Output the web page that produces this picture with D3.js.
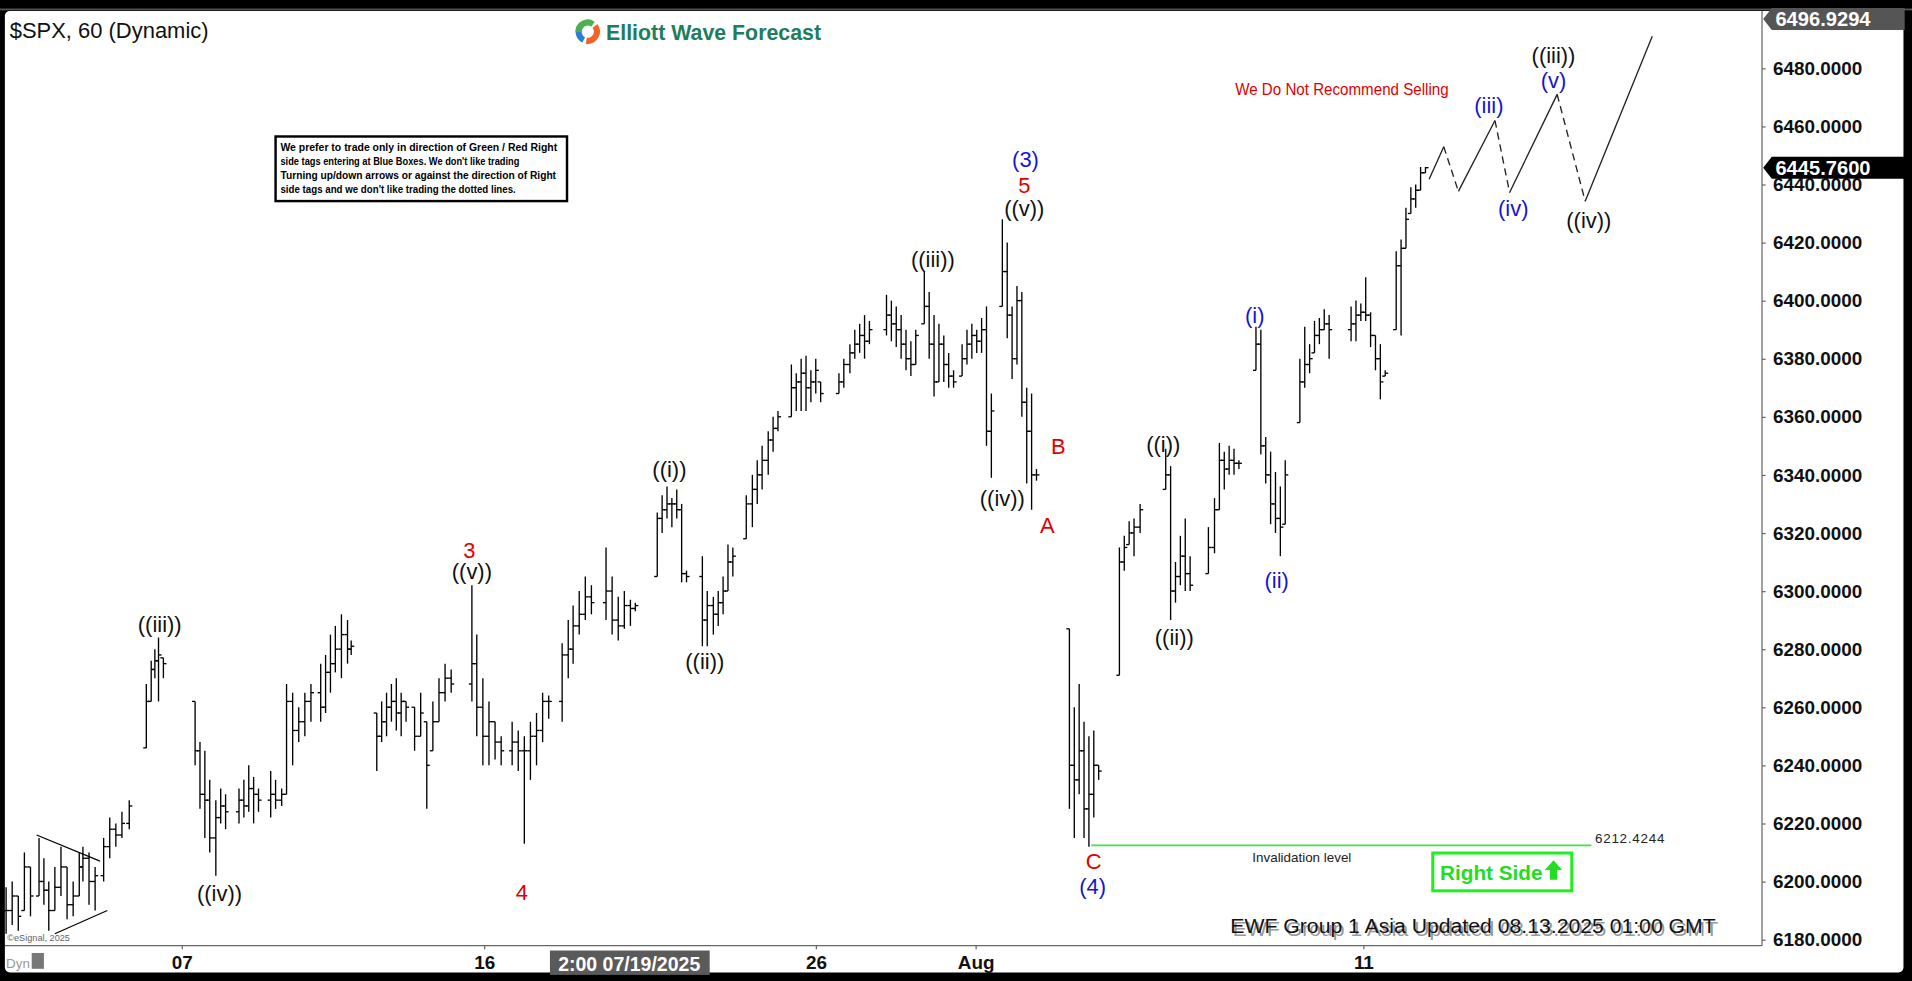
<!DOCTYPE html>
<html>
<head>
<meta charset="utf-8">
<script src="https://cdn.jsdelivr.net/npm/d3@7"></script>
<style>
  html, body { margin: 0; padding: 0; background: #000; overflow: hidden; }
  svg text { font-family: "Liberation Sans", Arial, sans-serif; }
</style>
</head>
<body>
<div id="chart"></div>
<script>
// hourly bars: time slot, high, low, close
var slot = [5,10,15,20,25,32,36,40,45,50,55,60,65,68,73,78,85,90,95,100,106,
  120,124,127,130,134,160,164,168,172,177,181,185,196,200,204,208,212,222,226,231,
  235,240,245,250,255,263,267,271,275,280,285,288,309,313,317,321,325,329,333,340,
  345,350,355,360,365,370,387,391,396,401,406,411,420,425,430,435,440,445,450,
  461,466,470,475,480,485,497,502,507,512,517,521,539,543,547,551,555,559,563,
  576,580,585,589,593,597,601,612,617,621,625,630,634,638,649,653,657,661,665,669,673,
  688,692,697,701,705,709,713,727,731,735,739,743,747,751,758,762,766,770,774,778,782,
  789,793,797,801,805,809,813,822,826,830,834,838,842,846,850,
  877,881,885,889,893,897,901,918,922,926,930,935,956,960,964,968,972,976,
  991,996,1000,1004,1008,1012,1016,1030,1034,1038,1042,1046,1050,1054,
  1066,1070,1074,1078,1082,1086,1090,1108,1112,1116,1120,1124,1128,1132,1136,
  1145,1149,1153,1157,1161,1165,1169];
var high = [6198,6200,6195,6210,6205,6215,6208,6200,6205,6212,6205,6200,6210,6212,6210,6205,6215,6222,6220,6224,6228,
  6268,6276,6280,6284,6277,6262,6248,6245,6235,6228,6232,6230,6232,6235,6240,6236,6232,6238,6235,6232,
  6268,6265,6260,6265,6268,6275,6278,6285,6288,6292,6290,6283,6258,6262,6265,6268,6270,6265,6262,6260,
  6265,6255,6262,6270,6275,6273,6302,6285,6270,6262,6255,6250,6255,6252,6250,6255,6258,6265,6264,
  6282,6290,6295,6300,6305,6302,6315,6305,6298,6300,6297,6296,6327,6333,6336,6332,6335,6330,6307,
  6312,6300,6298,6300,6305,6316,6315,6333,6340,6345,6350,6355,6360,6362,6378,6375,6380,6381,6376,6380,6372,
  6375,6380,6385,6390,6392,6395,6393,6402,6400,6398,6395,6390,6386,6390,6410,6403,6395,6392,6388,6382,6376,
  6385,6390,6392,6390,6394,6398,6368,6428,6420,6398,6405,6403,6370,6368,6342,
  6287,6260,6268,6255,6250,6252,6240,6315,6319,6324,6325,6330,6349,6343,6310,6319,6325,6312,
  6322,6332,6351,6348,6350,6349,6345,6391,6390,6353,6348,6341,6336,6345,
  6380,6391,6385,6393,6394,6397,6395,6398,6400,6399,6408,6396,6388,6385,6376,
  6417,6421,6432,6439,6440,6446,6446];
var low = [6182,6185,6183,6190,6188,6195,6192,6183,6190,6195,6187,6188,6195,6200,6192,6190,6200,6208,6212,6215,6218,
  6246,6262,6270,6262,6270,6240,6225,6215,6210,6202,6220,6218,6220,6222,6224,6220,6224,6222,6225,6226,
  6230,6240,6248,6250,6255,6255,6258,6265,6272,6270,6275,6278,6238,6248,6250,6255,6252,6250,6255,6245,
  6250,6225,6245,6255,6262,6265,6262,6250,6240,6240,6242,6240,6240,6238,6213,6235,6240,6248,6256,
  6255,6270,6275,6285,6290,6292,6290,6285,6283,6287,6288,6293,6305,6320,6325,6322,6325,6303,6303,
  6281,6281,6285,6288,6292,6300,6305,6318,6322,6330,6335,6340,6348,6355,6360,6362,6362,6362,6365,6368,6365,
  6368,6370,6375,6380,6382,6380,6385,6388,6386,6384,6380,6376,6374,6378,6392,6380,6367,6372,6372,6370,6370,
  6374,6378,6380,6382,6382,6350,6339,6398,6387,6373,6378,6360,6337,6328,6338,
  6225,6215,6230,6215,6212,6222,6235,6271,6307,6316,6312,6320,6335,6290,6296,6302,6300,6300,
  6306,6313,6328,6335,6340,6340,6342,6376,6347,6337,6323,6320,6312,6323,
  6358,6370,6375,6382,6385,6390,6380,6386,6386,6393,6393,6384,6376,6366,6374,
  6390,6388,6418,6430,6432,6438,6444];
var close = [6190,6195,6188,6205,6195,6200,6197,6190,6198,6205,6192,6195,6205,6208,6200,6202,6212,6218,6216,6220,6226,
  6262,6273,6276,6278,6275,6245,6230,6228,6215,6222,6226,6224,6228,6226,6232,6230,6228,6230,6228,6230,
  6262,6252,6255,6262,6265,6260,6272,6275,6280,6285,6280,6281,6250,6255,6260,6262,6258,6262,6260,6250,
  6258,6240,6255,6265,6270,6268,6275,6260,6250,6255,6248,6245,6248,6245,6245,6250,6252,6262,6262,
  6278,6280,6288,6292,6298,6296,6300,6290,6288,6295,6294,6295,6325,6328,6330,6330,6328,6306,6305,
  6290,6295,6292,6296,6300,6310,6312,6330,6335,6340,6345,6352,6356,6360,6370,6372,6375,6370,6372,6376,6368,
  6372,6378,6382,6385,6388,6386,6390,6395,6392,6390,6385,6380,6378,6388,6398,6385,6372,6385,6378,6374,6372,
  6380,6385,6388,6386,6390,6355,6362,6410,6395,6380,6400,6365,6355,6340,6340,
  6240,6235,6245,6225,6230,6240,6238,6310,6315,6320,6322,6328,6340,6300,6305,6312,6306,6302,
  6315,6328,6345,6342,6345,6344,6344,6385,6350,6340,6330,6325,6322,6340,
  6372,6378,6380,6388,6390,6392,6390,6392,6395,6396,6395,6388,6380,6372,6375,
  6412,6418,6428,6435,6438,6444,6445.76];

// projected path after the last bar
var projSlot = [1172,1184,1196,1226,1238,1277,1300,1355];
var projPrice = [6441.8,6453,6437.6,6462,6437.2,6471,6434.2,6491];
var projDashed = [false,true,false,true,false,true,false];

var yTicks = [6180,6200,6220,6240,6260,6280,6300,6320,6340,6360,6380,6400,6420,6440,6460,6480];
var xTickSlot = [149,397,669,800,1118];
var xTickLabel = ["07","16","26","Aug","11"];

// wave labels: text, slot, price, colour
var waveText  = ["((iii))","((iv))","((v))","((i))","((ii))","((iii))","((iv))","((v))","((i))","((ii))","((iii))","((iv))",
  "3","4","5","A","B","C",
  "(3)","(4)","(i)","(ii)","(iii)","(iv)","(v)"];
var waveSlot  = [131,180,387,549,578,765,822,840,954,963,1274,1303, 385,428,840,859,868,897, 841,896,1029,1047,1221,1241,1274];
var wavePrice = [6288.7,6195.9,6306.7,6342,6275.7,6414.1,6331.9,6431.7,6350.4,6284,6484.5,6427.5,
  6314,6196.4,6439.8,6322.7,6349.9,6206.9,
  6448.6,6198.5,6394.8,6303.8,6467.4,6431.7,6475.9];
var waveColor = ["k","k","k","k","k","k","k","k","k","k","k","k","r","r","r","r","r","r","b","b","b","b","b","b","b"];

var lastPrice = 6445.76, topPrice = 6496.9294, invalidation = 6212.4244;

var W = 1568, H = 805;
var colors = { k: "#111", r: "#e00000", b: "#1515d0" };

var svg = d3.select("#chart").append("svg")
    .attr("width", 1912).attr("height", 981)
    .attr("viewBox", "0 0 " + W + " " + H)
    .attr("preserveAspectRatio", "none");

// frame
svg.append("rect").attr("width", W).attr("height", H).attr("fill", "#000");
svg.append("rect").attr("x", 0).attr("y", 7).attr("width", W).attr("height", 1.5).attr("fill", "#555");
svg.append("rect").attr("x", 4).attr("y", 9).attr("width", 1557).attr("height", 789).attr("fill", "#fff")
    .attr("rx", 4);

var x = d3.scaleLinear().domain([0, 1445]).range([0, 1445]);
var y = d3.scaleLinear().domain([6180, 6480]).range([771, 56]);

// axes
svg.append("line").attr("x1", 1445).attr("x2", 1445).attr("y1", 9).attr("y2", 776).attr("stroke", "#666");
svg.append("line").attr("x1", 4).attr("x2", 1445).attr("y1", 776).attr("y2", 776).attr("stroke", "#666");

var yAxis = svg.append("g").attr("transform", "translate(1445,0)")
    .call(d3.axisRight(y).tickValues(yTicks).tickSize(3).tickFormat(d3.format(".4f")));
yAxis.select(".domain").remove();
yAxis.selectAll("line").attr("stroke", "#666");
yAxis.selectAll("text").attr("x", 9).attr("font-size", 15.5).attr("font-weight", "bold").attr("fill", "#111")
    .style("font-family", "Liberation Sans, Arial");

var xAxis = svg.append("g").attr("transform", "translate(0,776)")
    .call(d3.axisBottom(x).tickValues(xTickSlot).tickSize(3).tickFormat(function (d, i) { return xTickLabel[i]; }));
xAxis.select(".domain").remove();
xAxis.selectAll("line").attr("stroke", "#666");
xAxis.selectAll("text").attr("y", 8).attr("font-size", 15.5).attr("font-weight", "bold").attr("fill", "#111")
    .style("font-family", "Liberation Sans, Arial");

// cursor date tag
svg.append("rect").attr("x", 451).attr("y", 780).attr("width", 131).attr("height", 20).attr("fill", "#5a5a5a");
svg.append("text").attr("x", 516).attr("y", 797).attr("text-anchor", "middle").attr("font-size", 16)
    .attr("font-weight", "bold").attr("fill", "#fff").text("2:00 07/19/2025");
svg.append("text").attr("x", 5).attr("y", 794).attr("font-size", 11).attr("fill", "#999").text("Dyn");
svg.append("rect").attr("x", 26).attr("y", 782).attr("width", 10).attr("height", 13).attr("fill", "#777");
svg.append("text").attr("x", 6).attr("y", 772).attr("font-size", 7.5).attr("fill", "#666").text("©eSignal, 2025");

// price tags
function tag(price, fill, txt) {
    var yy = y(price);
    svg.append("path")
        .attr("d", "M1446," + yy + " l7,-9 h109 v18 h-109 z")
        .attr("fill", fill);
    svg.append("text").attr("x", 1456).attr("y", yy + 6).attr("font-size", 16.5).attr("font-weight", "bold")
        .attr("fill", "#fff").text(txt);
}
tag(topPrice, "#555", "6496.9294");
tag(lastPrice, "#000", "6445.7600");

// OHLC bars
var bars = slot.map(function (s, i) {
    var o = i > 0 ? Math.max(low[i], Math.min(high[i], close[i - 1])) : close[i];
    return { s: s, o: o, h: high[i], l: low[i], c: close[i] };
});
var g = svg.append("g").attr("stroke", "#000").attr("stroke-width", 1.1);
g.selectAll(".hl").data(bars).enter().append("line")
    .attr("x1", function (d) { return x(d.s); }).attr("x2", function (d) { return x(d.s); })
    .attr("y1", function (d) { return y(d.h); }).attr("y2", function (d) { return y(d.l); });
g.selectAll(".o").data(bars).enter().append("line")
    .attr("x1", function (d) { return x(d.s) - 2.5; }).attr("x2", function (d) { return x(d.s); })
    .attr("y1", function (d) { return y(d.o); }).attr("y2", function (d) { return y(d.o); });
g.selectAll(".c").data(bars).enter().append("line")
    .attr("x1", function (d) { return x(d.s); }).attr("x2", function (d) { return x(d.s) + 2.5; })
    .attr("y1", function (d) { return y(d.c); }).attr("y2", function (d) { return y(d.c); });

// small triangle lines on the left
svg.append("line").attr("x1", x(30)).attr("y1", y(6216)).attr("x2", x(82)).attr("y2", y(6207)).attr("stroke", "#000");
svg.append("line").attr("x1", x(45)).attr("y1", y(6182)).attr("x2", x(88)).attr("y2", y(6190)).attr("stroke", "#000");

// projection
for (var i = 0; i < projSlot.length - 1; i++) {
    svg.append("line")
        .attr("x1", x(projSlot[i])).attr("y1", y(projPrice[i]))
        .attr("x2", x(projSlot[i + 1])).attr("y2", y(projPrice[i + 1]))
        .attr("stroke", "#222").attr("stroke-width", 1.1)
        .attr("stroke-dasharray", projDashed[i] ? "6,4" : null);
}

// invalidation line
svg.append("line").attr("x1", x(895)).attr("x2", x(1305)).attr("y1", y(invalidation)).attr("y2", y(invalidation))
    .attr("stroke", "#44e044").attr("stroke-width", 1.3);
svg.append("text").attr("x", x(1308)).attr("y", y(invalidation) - 2).attr("font-size", 11).attr("fill", "#222")
    .attr("textLength", 57).text("6212.4244");
svg.append("text").attr("x", 1027).attr("y", 707).attr("font-size", 11).attr("fill", "#222").text("Invalidation level");

// wave labels
svg.selectAll(".wave").data(waveText).enter().append("text")
    .attr("x", function (d, i) { return x(waveSlot[i]); })
    .attr("y", function (d, i) { return y(wavePrice[i]); })
    .attr("text-anchor", "middle").attr("dy", "0.35em")
    .attr("font-size", 18)
    .attr("fill", function (d, i) { return colors[waveColor[i]]; })
    .text(function (d) { return d; });

// header
svg.append("text").attr("x", 8).attr("y", 31).attr("font-size", 18).attr("fill", "#111").text("$SPX, 60 (Dynamic)");
var logo = svg.append("g").attr("transform", "translate(482,26)");
var arc = d3.arc().innerRadius(5).outerRadius(10);
[["#2a7fd4", 3.6, 5.6], ["#f0642a", 0.9, 3.3], ["#4cb050", -1.6, 0.6]].forEach(function (a) {
    logo.append("path").attr("d", arc({ startAngle: a[1], endAngle: a[2] })).attr("fill", a[0]);
});
svg.append("text").attr("x", 497).attr("y", 33).attr("font-size", 17.5).attr("font-weight", "bold")
    .attr("fill", "#1d7d5c").text("Elliott Wave Forecast");

// notice box
svg.append("rect").attr("x", 226).attr("y", 112).attr("width", 239).attr("height", 53)
    .attr("fill", "#fff").attr("stroke", "#000").attr("stroke-width", 2);
["We prefer to trade only in direction of Green / Red Right",
 "side tags entering at Blue Boxes. We don't like trading",
 "Turning up/down arrows or against the direction of Right",
 "side tags and we don't like trading the dotted lines."].forEach(function (t, i) {
    svg.append("text").attr("x", 230).attr("y", 124 + i * 11.5).attr("font-size", 8.2)
        .attr("font-weight", "bold").attr("fill", "#000")
        .attr("textLength", [227, 196, 226, 193][i]).attr("lengthAdjust", "spacingAndGlyphs").text(t);
});

svg.append("text").attr("x", 1013).attr("y", 78).attr("font-size", 13).attr("fill", "#e00000")
    .attr("textLength", 175).attr("lengthAdjust", "spacingAndGlyphs").text("We Do Not Recommend Selling");

// right side box
svg.append("rect").attr("x", 1175).attr("y", 700).attr("width", 114).attr("height", 31)
    .attr("fill", "#fff").attr("stroke", "#22ee22").attr("stroke-width", 2.5);
svg.append("text").attr("x", 1181).attr("y", 722).attr("font-size", 17).attr("font-weight", "bold")
    .attr("fill", "#22dd22").attr("textLength", 84).attr("lengthAdjust", "spacingAndGlyphs").text("Right Side");
svg.append("path").attr("d", "M1271,722 v-8 h-4 l7,-8 l7,8 h-4 v8 z").attr("fill", "#22dd22");

// footer
svg.append("text").attr("x", 1011).attr("y", 768).attr("font-size", 17).attr("fill", "#999")
    .attr("textLength", 398).attr("lengthAdjust", "spacingAndGlyphs").text("EWF Group 1 Asia Updated 08.13.2025 01:00 GMT");
svg.append("text").attr("x", 1009).attr("y", 766).attr("font-size", 17).attr("fill", "#111")
    .attr("textLength", 398).attr("lengthAdjust", "spacingAndGlyphs").text("EWF Group 1 Asia Updated 08.13.2025 01:00 GMT");
</script>
</body>
</html>
